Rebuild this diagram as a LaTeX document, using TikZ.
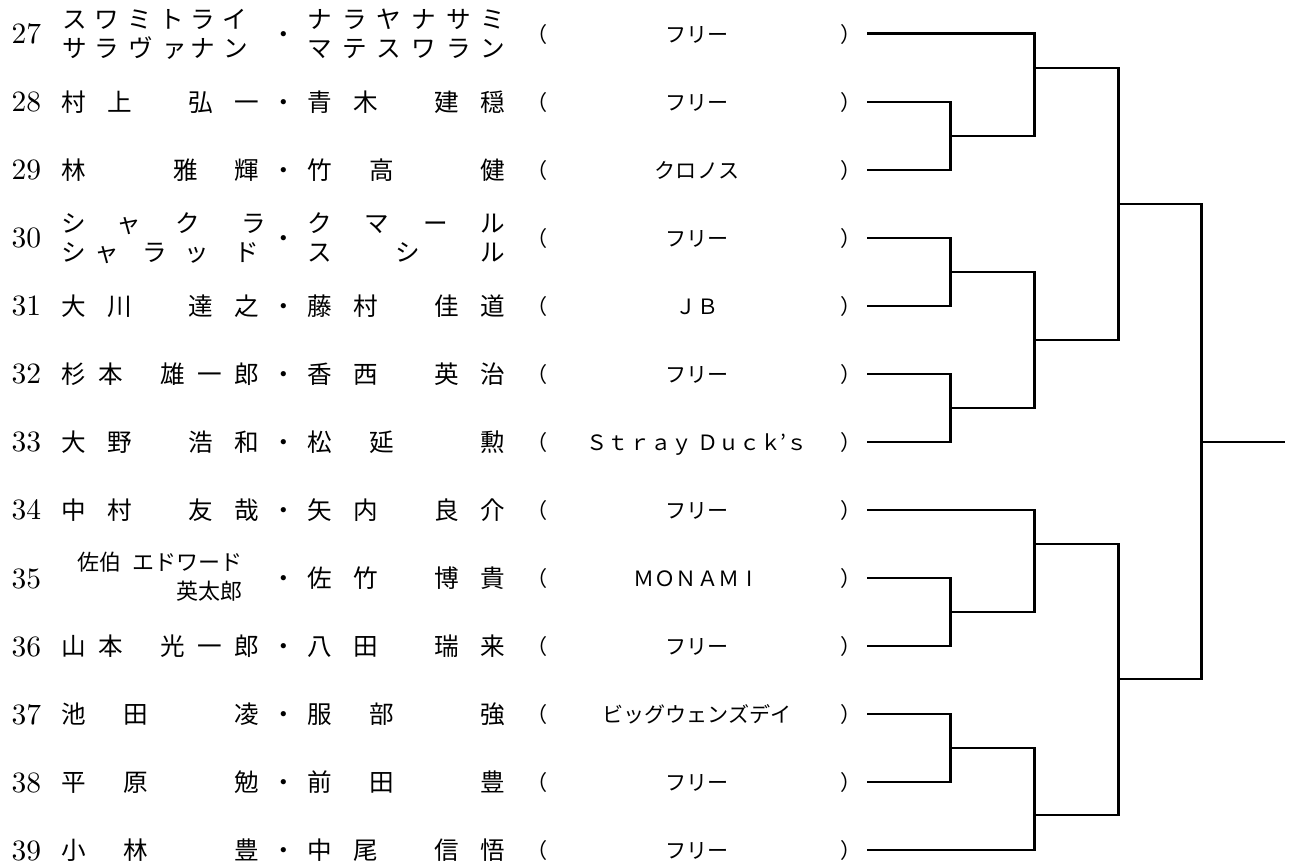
\documentclass[tikz,border=0pt]{standalone}
\usepackage{fontspec}
\newfontfamily\jp{Noto Sans CJK JP}
% name layouts (x offset, y): 2+2, 2+1, 2+3, 1+2 characters
\newcommand\nameTT[7]{%
  \node[nm] (#1-1) at (#2+74,#3) {#4};
  \node[nm] (#1-2) at (#2+120.25,#3) {#5};
  \node[nm] (#1-3) at (#2+200.75,#3) {#6};
  \node[nm] (#1-4) at (#2+247,#3) {#7};}
\newcommand\nameTO[6]{%
  \node[nm] (#1-1) at (#2+74,#3) {#4};
  \node[nm] (#1-2) at (#2+135.67,#3) {#5};
  \node[nm] (#1-3) at (#2+247,#3) {#6};}
\newcommand\nameTH[8]{%
  \node[nm] (#1-1) at (#2+74,#3) {#4};
  \node[nm] (#1-2) at (#2+111,#3) {#5};
  \node[nm] (#1-3) at (#2+173,#3) {#6};
  \node[nm] (#1-4) at (#2+210,#3) {#7};
  \node[nm] (#1-5) at (#2+247,#3) {#8};}
\newcommand\nameOT[6]{%
  \node[nm] (#1-1) at (#2+74,#3) {#4};
  \node[nm] (#1-2) at (#2+185.33,#3) {#5};
  \node[nm] (#1-3) at (#2+247,#3) {#6};}
\begin{document}
\begin{tikzpicture}[x=0.02cm,y=-0.02cm,
  nm/.style={font=\jp\fontsize{14pt}{14pt}\selectfont, inner sep=0pt, text height=12.32pt, text depth=1.68pt},
  sm/.style={font=\jp\fontsize{12.5pt}{12.5pt}\selectfont, inner sep=0pt, text height=11pt, text depth=1.5pt},
  tm/.style={font=\jp\fontsize{12pt}{12pt}\selectfont, inner sep=0pt, text height=10.56pt, text depth=1.44pt},
  num/.style={font=\fontsize{10pt}{10pt}\selectfont, scale=1.68, inner sep=0pt, anchor=base west},
  br/.style={line width=1.7pt, line join=miter}]
\useasboundingbox (0,0) rectangle (1295,864);

% per-row: number, separator dot, club in brackets, bracket start
\foreach \i/\y/\t in {27/34/フリー, 28/102/フリー, 29/170/クロノス, 30/238/フリー,
  31/306/ＪＢ, 32/374/フリー, 33/442/{Ｓｔｒａｙ Ｄｕｃｋ\makebox[0.22em]{’}ｓ}, 34/510/フリー,
  35/578/{ＭＯＮＡＭ\makebox[1em]{I}}, 36/646/フリー, 37/714/ビッグウェンズデイ, 38/782/フリー, 39/850/フリー} {
  \node[num] (k\i) at (11,\y+10) {\i};
  \node[nm] (d\i) at (284,\y) {・};
  \node[tm] (lp\i) at (537,\y) {（};
  \node[tm] (t\i) at (697,\y) {\t};
  \node[tm] (rp\i) at (851,\y) {）};
  \coordinate (s\i) at (867,\y);
}

% row 27
\foreach \c/\x [count=\n] in {ス/75,ワ/107,ミ/140,ト/172,ラ/203,イ/235}
  \node[nm] (p27a-t\n) at (\x,19.5) {\c};
\foreach \c/\x [count=\n] in {サ/75,ラ/107,ヴ/141,ァ/175,ナ/203,ン/236}
  \node[nm] (p27a-b\n) at (\x,48.5) {\c};
\foreach \c/\x [count=\n] in {ナ/320,ラ/354.6,ヤ/389.2,ナ/423.8,サ/458.4,ミ/493}
  \node[nm] (p27b-t\n) at (\x,19.5) {\c};
\foreach \c/\x [count=\n] in {マ/320,テ/354.6,ス/389.2,ワ/423.8,ラ/458.4,ン/493}
  \node[nm] (p27b-b\n) at (\x,48.5) {\c};

\nameTT{p28a}{0}{102}{村}{上}{弘}{一}
\nameTT{p28b}{246}{102}{青}{木}{建}{穏}
\nameOT{p29a}{0}{170}{林}{雅}{輝}
\nameTO{p29b}{246}{170}{竹}{高}{健}

% row 30
\foreach \c/\x [count=\n] in {シ/74,ャ/129,ク/188,ラ/254}
  \node[nm] (p30a-t\n) at (\x,223.5) {\c};
\foreach \c/\x [count=\n] in {シ/74,ャ/107,ラ/155,ッ/197,ド/247}
  \node[nm] (p30a-b\n) at (\x,252.5) {\c};
\foreach \c/\x [count=\n] in {ク/320,マ/377,ー/436,ル/493}
  \node[nm] (p30b-t\n) at (\x,223.5) {\c};
\foreach \c/\x [count=\n] in {ス/320,シ/408,ル/493}
  \node[nm] (p30b-b\n) at (\x,252.5) {\c};

\nameTT{p31a}{0}{306}{大}{川}{達}{之}
\nameTT{p31b}{246}{306}{藤}{村}{佳}{道}
\nameTH{p32a}{0}{374}{杉}{本}{雄}{一}{郎}
\nameTT{p32b}{246}{374}{香}{西}{英}{治}
\nameTT{p33a}{0}{442}{大}{野}{浩}{和}
\nameTO{p33b}{246}{442}{松}{延}{勲}
\nameTT{p34a}{0}{510}{中}{村}{友}{哉}
\nameTT{p34b}{246}{510}{矢}{内}{良}{介}
\node[sm, anchor=east] (p35a-1) at (243,562) {佐伯\hspace{0.5em}エドワード};
\node[sm, anchor=east] (p35a-2) at (243,591) {英太郎};
\nameTT{p35b}{246}{578}{佐}{竹}{博}{貴}
\nameTH{p36a}{0}{646}{山}{本}{光}{一}{郎}
\nameTT{p36b}{246}{646}{八}{田}{瑞}{来}
\nameTO{p37a}{0}{714}{池}{田}{凌}
\nameTO{p37b}{246}{714}{服}{部}{強}
\nameTO{p38a}{0}{782}{平}{原}{勉}
\nameTO{p38b}{246}{782}{前}{田}{豊}
\nameTO{p39a}{0}{850}{小}{林}{豊}
\nameTT{p39b}{246}{850}{中}{尾}{信}{悟}

% bracket joins
\coordinate (a28) at (950,136);
\coordinate (a30) at (950,272);
\coordinate (a32) at (950,408);
\coordinate (a35) at (950,612);
\coordinate (a37) at (950,748);
\coordinate (j1) at (1034,68);
\coordinate (j2) at (1034,340);
\coordinate (j3) at (1034,544);
\coordinate (j4) at (1034,815);
\coordinate (h1) at (1118,204);
\coordinate (h2) at (1118,679);
\coordinate (f) at (1201,442);
\coordinate (fin) at (1285,442);

% upper half
\draw[br] (s27) -| (1034,136) -- (a28);
\draw[br] (s28) -| (a28) |- (s29);
\draw[br] (s30) -| (a30) |- (s31);
\draw[br] (s32) -| (a32) |- (s33);
\draw[br] (a30) -| (1034,408) -- (a32);
\draw[br] (j1) -| (1118,340) -- (j2);
% lower half
\draw[br] (s34) -| (1034,612) -- (a35);
\draw[br] (s35) -| (a35) |- (s36);
\draw[br] (s37) -| (a37) |- (s38);
\draw[br] (a37) -| (1034,850) -- (s39);
\draw[br] (j3) -| (1118,815) -- (j4);
% final rounds
\draw[br] (h1) -| (1201,679) -- (h2);
\draw[br] (f) -- (fin);
\end{tikzpicture}
\end{document}
